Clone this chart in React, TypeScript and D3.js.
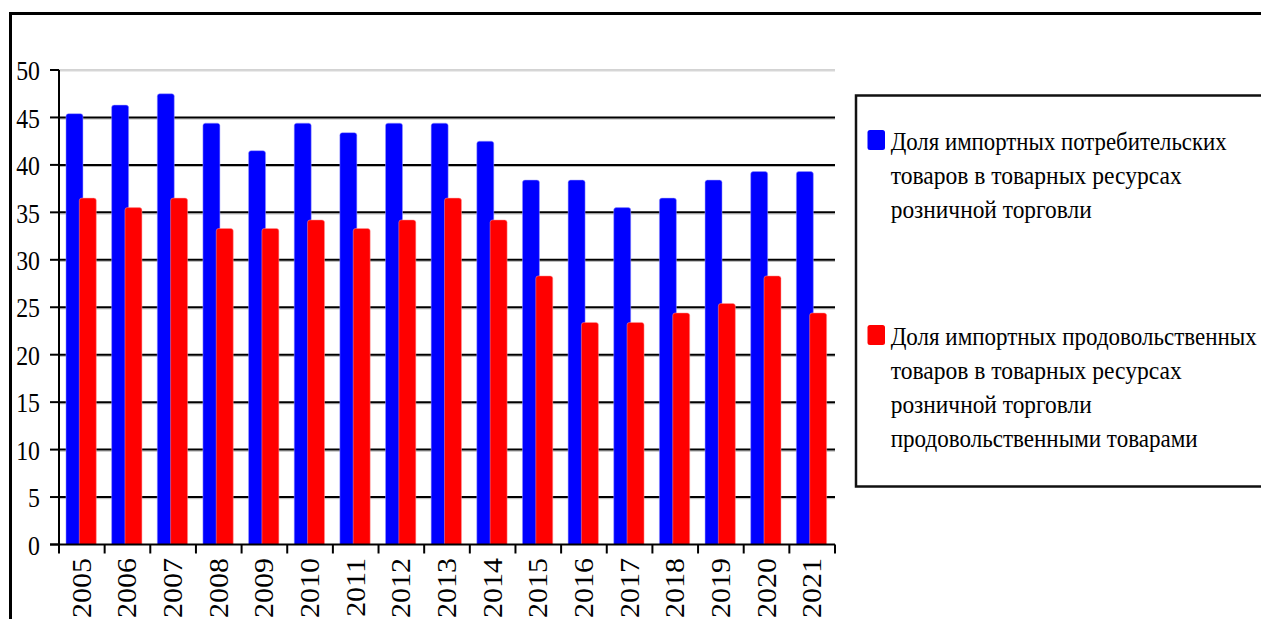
import React from "react";
import * as d3 from "d3";

const years = ["2005","2006","2007","2008","2009","2010","2011","2012","2013","2014","2015","2016","2017","2018","2019","2020","2021"];
const consumerShare = [45.4, 46.3, 47.5, 44.4, 41.5, 44.4, 43.4, 44.4, 44.4, 42.5, 38.4, 38.4, 35.5, 36.5, 38.4, 39.3, 39.3];
const foodShare = [36.5, 35.5, 36.5, 33.3, 33.3, 34.2, 33.3, 34.2, 36.5, 34.2, 28.3, 23.4, 23.4, 24.4, 25.4, 28.3, 24.4];
const yTicks = [0, 5, 10, 15, 20, 25, 30, 35, 40, 45, 50];
const legendConsumer = ["Доля импортных потребительских", "товаров в товарных ресурсах", "розничной торговли"];
const legendFood = ["Доля импортных продовольственных", "товаров в товарных ресурсах", "розничной торговли", "продовольственными товарами"];

const W = 1261;
const H = 619;
const BLUE = "#0000ff";
const RED = "#ff0000";
const FONT = "Liberation Serif";

export default function App() {
  const ref = React.useRef<SVGSVGElement | null>(null);

  React.useEffect(() => {
    const svg = d3.select(ref.current!);
    svg.selectAll("*").remove();
    svg.append("style").text(`svg text { font-family: "Liberation Serif", "Times New Roman", serif !important; }`);

    const x = d3.scaleBand<string>().domain(years).range([59, 835]).padding(0);
    const y = d3.scaleLinear().domain([0, 50]).range([544.5, 70]);
    const bw = x.bandwidth();
    const barW = bw * 0.372;
    const blueOff = bw * 0.153;
    const redOff = bw * 0.445;
    const y0 = y(0);

    const bar = (bx: number, by: number, w: number, r: number) => {
      const p = d3.path();
      const rr = Math.min(r, (y0 - by) / 2, w / 2);
      p.moveTo(bx, y0);
      p.lineTo(bx, by + rr);
      p.quadraticCurveTo(bx, by, bx + rr, by);
      p.lineTo(bx + w - rr, by);
      p.quadraticCurveTo(bx + w, by, bx + w, by + rr);
      p.lineTo(bx + w, y0);
      p.closePath();
      return p.toString();
    };

    svg.append("rect").attr("width", W).attr("height", H).attr("fill", "#fff");
    svg.append("rect").attr("x", 10.5).attr("y", 13.5).attr("width", 1400).attr("height", 800)
      .attr("fill", "none").attr("stroke", "#000").attr("stroke-width", 3);

    const grid = svg.append("g");
    yTicks.filter((t) => t > 0).forEach((t) => {
      if (t === 50) {
        grid.append("line").attr("x1", 59).attr("x2", 835).attr("y1", y(t)).attr("y2", y(t))
          .attr("stroke", "#c4c4c4").attr("stroke-width", 1.5);
        grid.append("line").attr("x1", 59).attr("x2", 835).attr("y1", y(t) + 1.3).attr("y2", y(t) + 1.3)
          .attr("stroke", "#e6e6e6").attr("stroke-width", 1);
      } else {
        grid.append("line").attr("x1", 59).attr("x2", 835).attr("y1", y(t) + 1.6).attr("y2", y(t) + 1.6)
          .attr("stroke", "#b8b8b8").attr("stroke-width", 1);
        grid.append("line").attr("x1", 59).attr("x2", 835).attr("y1", y(t)).attr("y2", y(t))
          .attr("stroke", "#000").attr("stroke-width", 2);
      }
    });

    const bars = svg.append("g");
    years.forEach((yr, i) => {
      bars.append("path").attr("d", bar(x(yr)! + blueOff, y(consumerShare[i]), barW, 2.5))
        .attr("fill", BLUE).attr("stroke", "#9a9aff").attr("stroke-width", 0.5);
      bars.append("path").attr("d", bar(x(yr)! + redOff, y(foodShare[i]), barW, 2.5))
        .attr("fill", RED).attr("stroke", "#ff9a9a").attr("stroke-width", 0.5);
    });

    const ax = svg.append("g").attr("stroke", "#000").attr("stroke-width", 2);
    ax.append("line").attr("x1", 59).attr("x2", 59).attr("y1", y(50)).attr("y2", y0 + 1);
    yTicks.forEach((t) => ax.append("line").attr("x1", 50).attr("x2", 59).attr("y1", y(t)).attr("y2", y(t)));
    ax.append("line").attr("x1", 50).attr("x2", 835).attr("y1", y0).attr("y2", y0);
    [...years.map((yr) => x(yr)!), 835].forEach((px) =>
      ax.append("line").attr("x1", px).attr("x2", px).attr("y1", y0).attr("y2", y0 + 9));

    yTicks.forEach((t) => {
      svg.append("text").attr("transform", `translate(40,${y(t) + 1}) scale(0.88,1)`)
        .attr("text-anchor", "end").attr("dy", "0.34em").attr("font-family", FONT)
        .attr("font-size", 27).attr("fill", "#000").text(String(t));
    });
    years.forEach((yr) => {
      svg.append("text").attr("transform", `translate(${x(yr)! + bw / 2},558) scale(0.88,1) rotate(-90)`)
        .attr("text-anchor", "end").attr("dy", "0.34em").attr("font-family", FONT)
        .attr("font-size", 30).attr("fill", "#000").text(yr);
    });

    const legendWidths1 = [336, 291, 201];
    const legendWidths2 = [366, 291, 201, 307];
    const legendX = 890.7;
    const lineStep = 34;
    svg.append("rect").attr("x", 856).attr("y", 95.5).attr("width", 600).attr("height", 391)
      .attr("fill", "#fff").attr("stroke", "#111").attr("stroke-width", 2.5);
    svg.append("rect").attr("x", 867.5).attr("y", 130).attr("width", 17.5).attr("height", 20).attr("rx", 2.5).attr("fill", BLUE);
    legendConsumer.forEach((line, i) => {
      svg.append("text").attr("x", legendX).attr("y", 150 + i * lineStep).attr("font-family", FONT)
        .attr("font-size", 26).attr("fill", "#000").attr("textLength", legendWidths1[i])
        .attr("lengthAdjust", "spacingAndGlyphs").text(line);
    });
    svg.append("rect").attr("x", 867.5).attr("y", 325).attr("width", 17.5).attr("height", 20).attr("rx", 2.5).attr("fill", RED);
    legendFood.forEach((line, i) => {
      svg.append("text").attr("x", legendX).attr("y", 345 + i * lineStep).attr("font-family", FONT)
        .attr("font-size", 26).attr("fill", "#000").attr("textLength", legendWidths2[i])
        .attr("lengthAdjust", "spacingAndGlyphs").text(line);
    });
  }, []);

  return <svg ref={ref} width={W} height={H} style={{ position: "absolute", left: 0, top: 0 }} />;
}
